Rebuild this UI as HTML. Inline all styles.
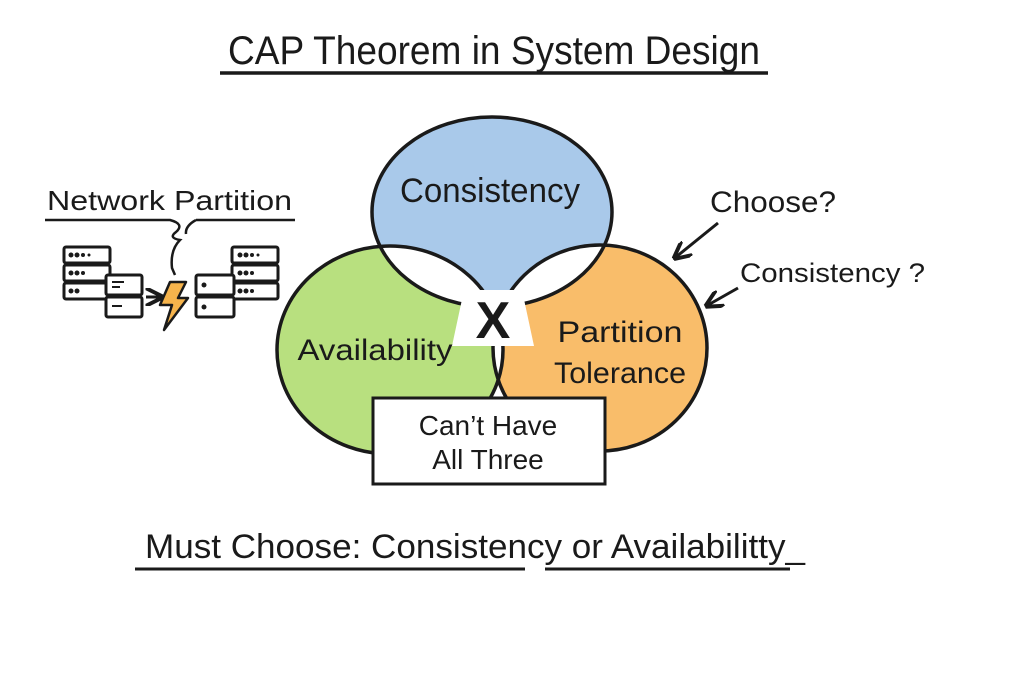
<!DOCTYPE html>
<html><head><meta charset="utf-8"><style>
body{margin:0;background:#fff;}
svg{display:block}
text{font-family:"Liberation Sans",sans-serif;fill:#1a1a1a}
</style></head><body>
<svg width="1024" height="683" viewBox="0 0 1024 683" xmlns="http://www.w3.org/2000/svg">
<defs>
<clipPath id="cb"><ellipse cx="492" cy="212" rx="120" ry="95"/></clipPath>
<clipPath id="cg"><ellipse cx="390" cy="350" rx="113" ry="104"/></clipPath>
<marker id="ah" viewBox="0 0 10 10" refX="8" refY="5" markerWidth="6" markerHeight="6" orient="auto"><path d="M0,0 L10,5 L0,10" fill="none" stroke="#1a1a1a" stroke-width="2.2"/></marker>
</defs>
<!-- title -->
<text x="228" y="64" font-size="40" textLength="532" lengthAdjust="spacingAndGlyphs">CAP Theorem in System Design</text>
<line x1="220" y1="73" x2="768" y2="73" stroke="#1a1a1a" stroke-width="3.5"/>

<!-- venn fills -->
<ellipse cx="390" cy="350" rx="113" ry="104" fill="#b8e07f"/>
<ellipse cx="600" cy="348" rx="107" ry="103" fill="#f9bd6a"/>
<ellipse cx="492" cy="212" rx="120" ry="95" fill="#a9c9ea"/>
<g clip-path="url(#cb)">
<ellipse cx="390" cy="350" rx="113" ry="104" fill="#fff"/>
<ellipse cx="600" cy="348" rx="107" ry="103" fill="#fff"/>
</g>
<g clip-path="url(#cg)"><ellipse cx="600" cy="348" rx="107" ry="103" fill="#fff"/></g>
<g fill="none" stroke="#1a1a1a" stroke-width="3.5">
<ellipse cx="390" cy="350" rx="113" ry="104"/>
<ellipse cx="600" cy="348" rx="107" ry="103"/>
<ellipse cx="492" cy="212" rx="120" ry="95"/>
</g>
<polygon points="464,290 522,290 534,346 452,346" fill="#fff"/>
<text x="493" y="338" font-size="52" font-weight="bold" text-anchor="middle">X</text>
<text x="490" y="202" font-size="34" text-anchor="middle" textLength="180" lengthAdjust="spacingAndGlyphs">Consistency</text>
<text x="375" y="360" font-size="30" text-anchor="middle" textLength="155" lengthAdjust="spacingAndGlyphs">Availability</text>
<text x="620" y="342" font-size="30" text-anchor="middle" textLength="125" lengthAdjust="spacingAndGlyphs">Partition</text>
<text x="620" y="383" font-size="30" text-anchor="middle" textLength="132" lengthAdjust="spacingAndGlyphs">Tolerance</text>
<rect x="373" y="398" width="232" height="86" fill="#fff" stroke="#1a1a1a" stroke-width="3"/>
<text x="488" y="435" font-size="28" text-anchor="middle">Can’t Have</text>
<text x="488" y="469" font-size="28" text-anchor="middle">All Three</text>

<!-- right labels -->
<text x="710" y="212" font-size="30" textLength="126" lengthAdjust="spacingAndGlyphs">Choose?</text>
<text x="740" y="282" font-size="27" textLength="185" lengthAdjust="spacingAndGlyphs">Consistency ?</text>
<line x1="718" y1="223" x2="676" y2="257" stroke="#1a1a1a" stroke-width="3" marker-end="url(#ah)"/>
<line x1="738" y1="288" x2="708" y2="305" stroke="#1a1a1a" stroke-width="3" marker-end="url(#ah)"/>

<!-- network partition -->
<text x="47" y="210" font-size="28" textLength="245" lengthAdjust="spacingAndGlyphs">Network Partition</text>
<path d="M45,220 L170,220 Q185,224 176,232 Q168,238 180,240 Q170,250 172,268 L175,275 M196,220 L295,220 M196,220 Q185,226 186,234" fill="none" stroke="#1a1a1a" stroke-width="2.5"/>
<g fill="#fff" stroke="#1a1a1a" stroke-width="3">
<rect x="64" y="247" width="46" height="16" rx="2"/>
<rect x="64" y="265" width="46" height="16" rx="2"/>
<rect x="64" y="283" width="46" height="16" rx="2"/>
<rect x="106" y="275" width="36" height="20" rx="2"/>
<rect x="106" y="297" width="36" height="20" rx="2"/>
<rect x="232" y="247" width="46" height="16" rx="2"/>
<rect x="232" y="265" width="46" height="16" rx="2"/>
<rect x="232" y="283" width="46" height="16" rx="2"/>
<rect x="196" y="275" width="38" height="20" rx="2"/>
<rect x="196" y="297" width="38" height="20" rx="2"/>
</g>
<g fill="#1a1a1a">
<circle cx="71" cy="255" r="2.5"/><circle cx="77" cy="255" r="2.5"/><circle cx="83" cy="255" r="2"/><circle cx="89" cy="255" r="1.5"/>
<circle cx="71" cy="273" r="2.5"/><circle cx="77" cy="273" r="2.5"/><circle cx="83" cy="273" r="2"/>
<circle cx="71" cy="291" r="2.5"/><circle cx="77" cy="291" r="2.5"/>
<circle cx="240" cy="255" r="2.5"/><circle cx="246" cy="255" r="2.5"/><circle cx="252" cy="255" r="2"/><circle cx="258" cy="255" r="1.5"/>
<circle cx="240" cy="273" r="2.5"/><circle cx="246" cy="273" r="2.5"/><circle cx="252" cy="273" r="2"/>
<circle cx="240" cy="291" r="2.5"/><circle cx="246" cy="291" r="2.5"/><circle cx="252" cy="291" r="2"/>
<circle cx="204" cy="285" r="2.5"/><circle cx="204" cy="307" r="2.5"/>
</g>
<g stroke="#1a1a1a" stroke-width="2">
<line x1="112" y1="282" x2="124" y2="282"/><line x1="112" y1="287" x2="120" y2="287"/>
<line x1="112" y1="306" x2="122" y2="306"/>
</g>
<line x1="146" y1="297" x2="160" y2="297" stroke="#1a1a1a" stroke-width="3" marker-end="url(#ah)"/>
<polygon points="170,282 186,282 178,298 188,298 164,330 172,305 160,305" fill="#f6b44c" stroke="#1a1a1a" stroke-width="2.5" stroke-linejoin="round"/>

<!-- bottom -->
<text x="145" y="558" font-size="34" textLength="660" lengthAdjust="spacingAndGlyphs">Must Choose: Consistency or Availabilitty_</text>
<line x1="135" y1="569" x2="525" y2="569" stroke="#1a1a1a" stroke-width="3"/>
<line x1="545" y1="569" x2="790" y2="569" stroke="#1a1a1a" stroke-width="3"/>
</svg>
</body></html>
